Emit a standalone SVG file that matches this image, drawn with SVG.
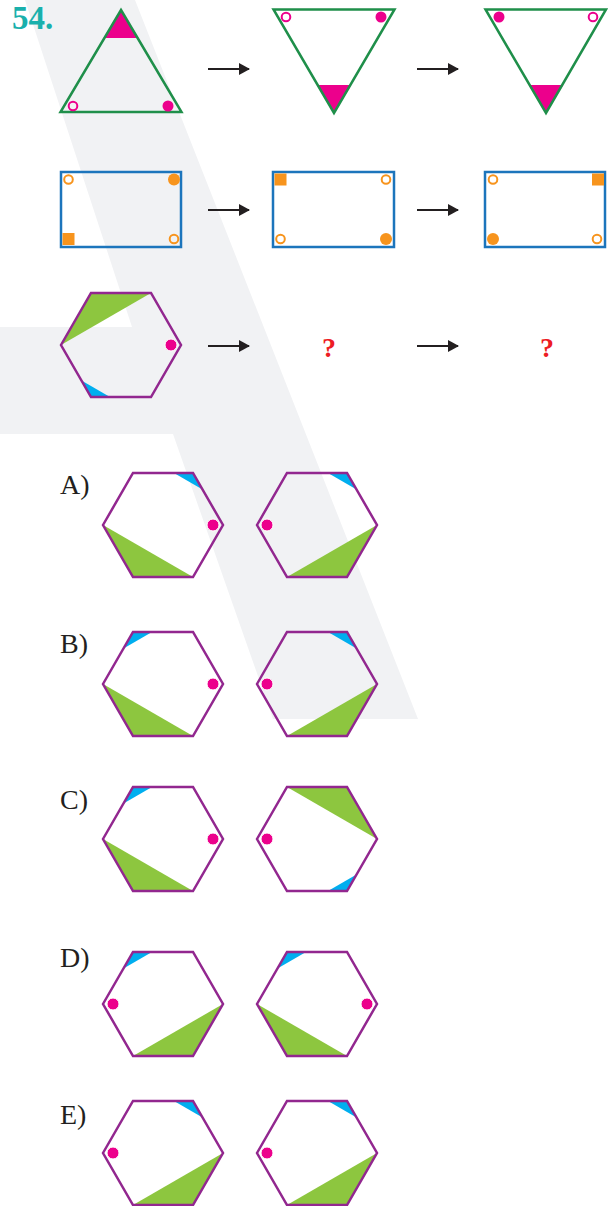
<svg xmlns="http://www.w3.org/2000/svg" width="614" height="1206" viewBox="0 0 614 1206">
<style>
.tri{fill:none;stroke:#1f8f4a;stroke-width:2.5;stroke-linejoin:miter}
.rect{fill:none;stroke:#1c75bc;stroke-width:2.5}
.hexo{fill:none;stroke:#92278f;stroke-width:2.5;stroke-linejoin:miter}
.pk{fill:#ec008c}
.pko{fill:none;stroke:#ec008c;stroke-width:2}
.or{fill:#f7941d}
.oro{fill:none;stroke:#f7941d;stroke-width:2}
.gr{fill:#8dc63f}
.bl{fill:#00aeef}
.dot{fill:#ec008c;stroke:#fff;stroke-width:1}
.arr{stroke:#231f20;stroke-width:2.2;fill:none}
.serif{font-family:"Liberation Serif","Times New Roman",Times,serif}
.lbl{font-size:28px;fill:#231f20}
.q{font-size:28px;font-weight:bold;fill:#ed1c24}
.num{font-size:33px;font-weight:bold;fill:#1ab0ac}
</style>
<defs>
<marker id="ah" viewBox="0 0 11 12" refX="10" refY="6" markerWidth="11" markerHeight="12" markerUnits="userSpaceOnUse" orient="auto">
<path d="M0,0 L11,6 L0,12 Z" fill="#231f20"/>
</marker>
<polygon id="hex" class="hexo" points="-60,0 -30,-52 30,-52 60,0 30,52 -30,52"/>
<polygon id="gTop" class="gr" points="-30,-52 30,-52 -60,0"/>
<polygon id="gTopR" class="gr" points="-30,-52 30,-52 60,0"/>
<polygon id="gBotL" class="gr" points="-60,0 -30,52 30,52"/>
<polygon id="gBotR" class="gr" points="60,0 30,52 -30,52"/>
<polygon id="bTR" class="bl" points="30,-52 11,-52 39.5,-35.5"/>
<polygon id="bTL" class="bl" points="-30,-52 -11,-52 -39.5,-35.5"/>
<polygon id="bBL" class="bl" points="-30,52 -11,52 -39.5,35.5"/>
<polygon id="bBR" class="bl" points="30,52 11,52 39.5,35.5"/>
<circle id="dR" class="dot" cx="50" cy="0" r="6"/>
<circle id="dL" class="dot" cx="-50" cy="0" r="6"/>
</defs>
<rect width="614" height="1206" fill="#fff"/>
<path id="watermark" d="M25,0 L135,0 L418,719 L273,719 L173,434 L0,434 L0,327 L132,327 Z" fill="#f1f2f4"/>

<text class="serif num" x="12" y="29">54.</text>

<g id="tri1">
<polygon points="104.4,38 137.6,38 121,10" class="pk"/>
<polygon class="tri" points="121,10 181.5,112 60.5,112"/>
<circle class="pko" cx="73" cy="106" r="4.3"/>
<circle class="pk" cx="168" cy="106" r="5.5"/>
</g>
<g id="tri2">
<polygon points="316.8,85 351.2,85 334,113" class="pk"/>
<polygon class="tri" points="273.5,9.5 394.5,9.5 334,113"/>
<circle class="pko" cx="286" cy="17" r="4.3"/>
<circle class="pk" cx="381" cy="17" r="5.5"/>
</g>
<g id="tri3">
<polygon points="528.8,85 563.2,85 546,113" class="pk"/>
<polygon class="tri" points="485.5,9.5 606,9.5 546,113"/>
<circle class="pk" cx="499" cy="17" r="5.5"/>
<circle class="pko" cx="593" cy="17" r="4.3"/>
</g>

<g id="rect1">
<rect class="rect" x="61" y="172" width="120" height="75"/>
<circle class="oro" cx="68.5" cy="179.5" r="4.3"/>
<circle class="or" cx="174" cy="179.5" r="6"/>
<rect class="or" x="62.5" y="233" width="12" height="12"/>
<circle class="oro" cx="174" cy="239" r="4.3"/>
</g>
<g id="rect2">
<rect class="rect" x="273" y="172" width="121" height="75"/>
<rect class="or" x="274.5" y="173.5" width="12" height="12"/>
<circle class="oro" cx="386" cy="179.5" r="4.3"/>
<circle class="oro" cx="280.5" cy="239" r="4.3"/>
<circle class="or" cx="386" cy="239" r="6"/>
</g>
<g id="rect3">
<rect class="rect" x="485" y="172" width="120" height="75"/>
<circle class="oro" cx="493" cy="179.5" r="4.3"/>
<rect class="or" x="592" y="173.5" width="12" height="12"/>
<circle class="or" cx="493" cy="239" r="6"/>
<circle class="oro" cx="597" cy="239" r="4.3"/>
</g>

<g id="hex-q" transform="translate(121,345)">
<use href="#gTop"/><use href="#bBL"/><use href="#hex"/><use href="#dR"/>
</g>
<text class="serif q" x="322" y="357">?</text>
<text class="serif q" x="540" y="357">?</text>

<g id="connectors">
<line class="arr" x1="208" y1="69" x2="249" y2="69" marker-end="url(#ah)"/>
<line class="arr" x1="417" y1="69" x2="458" y2="69" marker-end="url(#ah)"/>
<line class="arr" x1="208" y1="210" x2="249" y2="210" marker-end="url(#ah)"/>
<line class="arr" x1="417" y1="210" x2="458" y2="210" marker-end="url(#ah)"/>
<line class="arr" x1="208" y1="346" x2="249" y2="346" marker-end="url(#ah)"/>
<line class="arr" x1="417" y1="346" x2="458" y2="346" marker-end="url(#ah)"/>
</g>

<text class="serif lbl" x="60" y="494">A)</text>
<g id="optA1" transform="translate(163,525)"><use href="#gBotL"/><use href="#bTR"/><use href="#hex"/><use href="#dR"/></g>
<g id="optA2" transform="translate(317,525)"><use href="#gBotR"/><use href="#bTR"/><use href="#hex"/><use href="#dL"/></g>

<text class="serif lbl" x="60" y="653">B)</text>
<g id="optB1" transform="translate(163,684)"><use href="#gBotL"/><use href="#bTL"/><use href="#hex"/><use href="#dR"/></g>
<g id="optB2" transform="translate(317,684)"><use href="#gBotR"/><use href="#bTR"/><use href="#hex"/><use href="#dL"/></g>

<text class="serif lbl" x="60" y="809">C)</text>
<g id="optC1" transform="translate(163,839)"><use href="#gBotL"/><use href="#bTL"/><use href="#hex"/><use href="#dR"/></g>
<g id="optC2" transform="translate(317,839)"><use href="#gTopR"/><use href="#bBR"/><use href="#hex"/><use href="#dL"/></g>

<text class="serif lbl" x="60" y="967">D)</text>
<g id="optD1" transform="translate(163,1004)"><use href="#gBotR"/><use href="#bTL"/><use href="#hex"/><use href="#dL"/></g>
<g id="optD2" transform="translate(317,1004)"><use href="#gBotL"/><use href="#bTL"/><use href="#hex"/><use href="#dR"/></g>

<text class="serif lbl" x="60" y="1124">E)</text>
<g id="optE1" transform="translate(163,1153)"><use href="#gBotR"/><use href="#bTR"/><use href="#hex"/><use href="#dL"/></g>
<g id="optE2" transform="translate(317,1153)"><use href="#gBotR"/><use href="#bTR"/><use href="#hex"/><use href="#dL"/></g>
</svg>
